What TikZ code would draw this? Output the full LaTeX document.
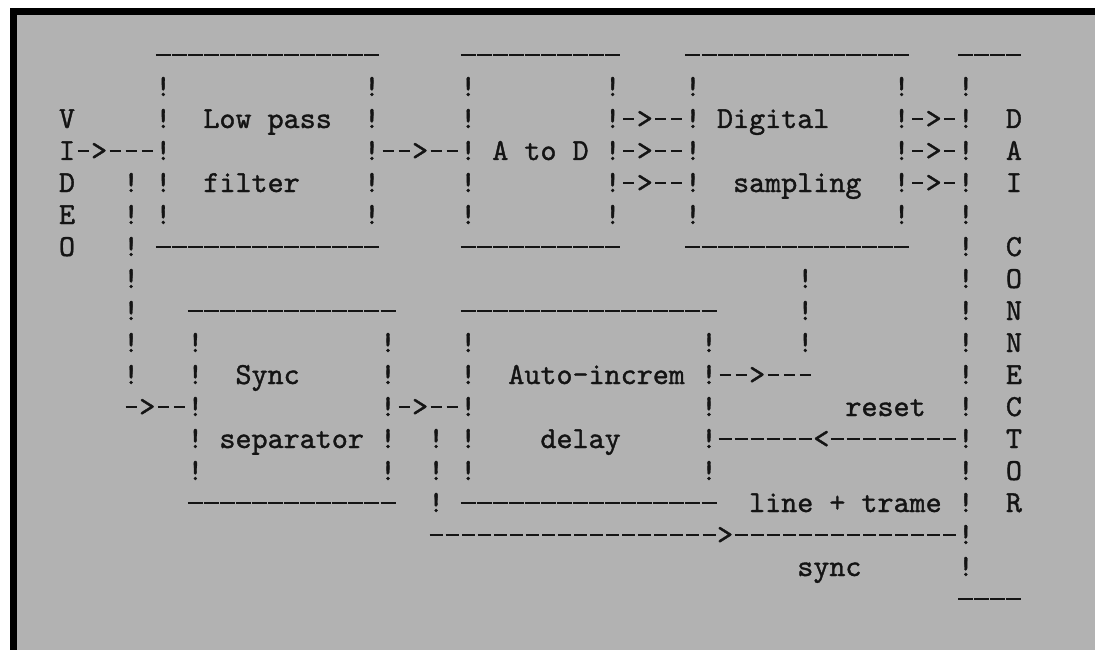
\documentclass[tikz,border=0pt]{standalone}
\usepackage{fontspec}
\newfontfamily\typew{lmmono10-regular.otf}[FakeBold=1.2]
\definecolor{paper}{RGB}{178,178,178}
\definecolor{ink}{RGB}{20,20,20}
% text run: name, column, row, text
\newcommand\Tx[4]{\node[txt] (#1) at ({58.975+16.05*(#2)},{64+32*(#3)}) {#4};}
% vertical run of "!": name, column, first row, last row
\newcommand\Vbar[4]{\foreach \k in {#3,...,#4}{\node[txt] (#1\k) at ({58.975+16.05*(#2)},{64+32*\k}) {!};}}
% horizontal run of dashes: row, first col, last col, half width
\newcommand\Hdash[4]{\foreach \c in {#2,...,#3}{\draw[ln] ({67+16.05*\c-#4},{55+32*(#1)}) -- ({67+16.05*\c+#4},{55+32*(#1)});}}
\begin{document}
\begin{tikzpicture}[x=1pt,y=-1pt,
  txt/.style={anchor=base west,inner sep=0pt,outer sep=0pt,font=\typew\fontsize{30.57}{32}\selectfont,text=ink},
  ln/.style={line width=1.7pt,draw=ink}]
\useasboundingbox (0,0) rectangle (1095,650);
\fill[white] (0,0) rectangle (1095,650);
\fill[paper] (17,15) rectangle (1095,650);
\fill[black] (10,8) rectangle (1095,15);
\fill[black] (10,8) rectangle (17,650);

% box borders
\Hdash{0}{6}{19}{7.5} \Hdash{0}{25}{34}{7.5} \Hdash{0}{39}{52}{7.5} \Hdash{0}{56}{59}{7.5}
\Hdash{6}{6}{19}{7.5} \Hdash{6}{25}{34}{7.5} \Hdash{6}{39}{52}{7.5}
\Hdash{8}{8}{20}{7.5} \Hdash{8}{25}{40}{7.5}
\Hdash{14}{8}{20}{7.5} \Hdash{14}{25}{40}{7.5}
\Hdash{17}{56}{59}{7.5}

% vertical bars
\Vbar{lpfL}{6}{1}{5} \Vbar{lpfR}{19}{1}{5}
\Vbar{adL}{25}{1}{5} \Vbar{adR}{34}{1}{5}
\Vbar{dsL}{39}{1}{5} \Vbar{dsR}{52}{1}{5}
\Vbar{con}{56}{1}{16}
\Vbar{vin}{4}{4}{10}
\Vbar{dsO}{46}{7}{9}
\Vbar{ssL}{8}{9}{13} \Vbar{ssR}{20}{9}{13}
\Vbar{aiL}{25}{9}{13} \Vbar{aiR}{40}{9}{13}
\Vbar{sy}{23}{12}{14}

% VIDEO
\Tx{vV}{0}{2}{V} \Tx{vI}{0}{3}{I} \Tx{vD}{0}{4}{D} \Tx{vE}{0}{5}{E} \Tx{vO}{0}{6}{O}
% DAI CONNECTOR
\Tx{cD}{59}{2}{D} \Tx{cA}{59}{3}{A} \Tx{cI}{59}{4}{I}
\Tx{cC1}{59}{6}{C} \Tx{cO1}{59}{7}{O} \Tx{cN1}{59}{8}{N} \Tx{cN2}{59}{9}{N}
\Tx{cE}{59}{10}{E} \Tx{cC2}{59}{11}{C} \Tx{cT}{59}{12}{T} \Tx{cO2}{59}{13}{O} \Tx{cR}{59}{14}{R}

% box texts
\Tx{lpf1}{9}{2}{Low pass} \Tx{lpf2}{9}{4}{filter}
\Tx{ad}{27}{3}{A to D}
\Tx{ds1}{41}{2}{Digital} \Tx{ds2}{42}{4}{sampling}
\Tx{ss1}{11}{10}{Sync} \Tx{ss2}{10}{12}{separator}
\Tx{ai1}{28}{10}{Auto-increm} \Tx{ai2}{30}{12}{delay}
\Tx{lreset}{49}{11}{reset}
\Tx{lline}{43}{14}{line + trame}
\Tx{lsync}{46}{16}{sync}

% arrows
\Hdash{3}{1}{1}{5.5} \Hdash{3}{3}{5}{5.5} \Tx{a1}{2}{3}{>}
\Hdash{3}{20}{21}{5.5} \Hdash{3}{23}{24}{5.5} \Tx{a2}{22}{3}{>}
\foreach \r in {2,3,4}{
  \Hdash{\r}{35}{35}{5.5} \Hdash{\r}{37}{38}{5.5} \Tx{b\r}{36}{\r}{>}
  \Hdash{\r}{53}{53}{5.5} \Hdash{\r}{55}{55}{5.5} \Tx{c\r}{54}{\r}{>}
}
\Hdash{10}{41}{42}{5.5} \Hdash{10}{44}{46}{5.5} \Tx{a3}{43}{10}{>}
\Hdash{11}{4}{4}{5.5} \Hdash{11}{6}{7}{5.5} \Tx{a4}{5}{11}{>}
\Hdash{11}{21}{21}{5.5} \Hdash{11}{23}{24}{5.5} \Tx{a5}{22}{11}{>}
\Hdash{12}{41}{46}{6.5} \Tx{a6}{47}{12}{<} \Hdash{12}{48}{55}{6.5}
\Hdash{15}{23}{40}{6.5} \Tx{a7}{41}{15}{>} \Hdash{15}{42}{55}{6.5}
\end{tikzpicture}
\end{document}
